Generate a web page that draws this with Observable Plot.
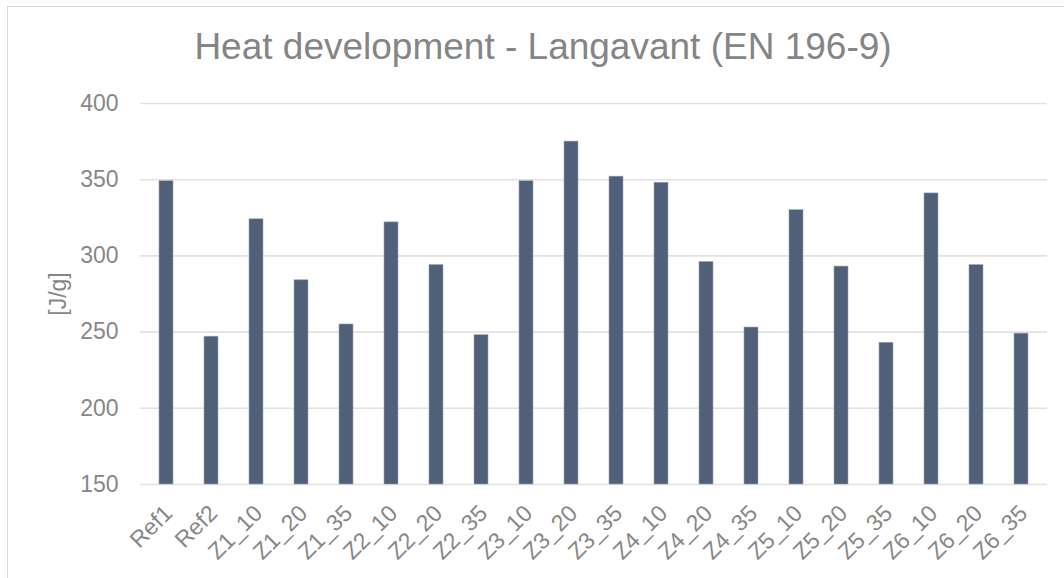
<!DOCTYPE html>
<html>
<head>
<meta charset="utf-8">
<script src="https://cdn.jsdelivr.net/npm/d3@7"></script>
<script src="https://cdn.jsdelivr.net/npm/@observablehq/plot@0.6"></script>
<style>
  html, body { margin: 0; padding: 0; background: #fff; }
  #wrap { position: relative; width: 1064px; height: 578px; overflow: hidden; font-family: "Liberation Sans", Arial, sans-serif; }
  #frame { position: absolute; left: 7px; top: 6px; width: 1080px; height: 600px; border: 1.5px solid #d9d9d9; box-sizing: border-box; }
  #title { position: absolute; left: 0; top: 26px; width: 1086px; text-align: center; font-size: 37px; line-height: normal; color: #858585; white-space: nowrap; }
  #chart { position: absolute; left: 0; top: 0; }
</style>
</head>
<body>
<div id="wrap">
  <div id="frame"></div>
  <div id="chart"></div>
  <div id="title">Heat development - Langavant (EN 196-9)</div>
</div>
<script>
const categories = ["Ref1","Ref2","Z1_10","Z1_20","Z1_35","Z2_10","Z2_20","Z2_35","Z3_10","Z3_20","Z3_35","Z4_10","Z4_20","Z4_35","Z5_10","Z5_20","Z5_35","Z6_10","Z6_20","Z6_35"];
const heatValues = [349,247,324,284,255,322,294,248,349,375,352,348,296,253,330,293,243,341,294,249];
const yTicks = [150,200,250,300,350,400];
const yLabel = "[J/g]";

const data = categories.map((c, i) => ({cat: c, value: heatValues[i]}));

const textColor = "#878787";

const chart = Plot.plot({
  width: 1064,
  height: 578,
  marginLeft: 140,
  marginRight: 17,
  marginTop: 103,
  marginBottom: 94,
  style: {fontFamily: "'Liberation Sans', Arial, sans-serif", fontSize: "23px", color: textColor, background: "transparent"},
  x: {domain: categories, paddingInner: 0.685, paddingOuter: 0.3425},
  y: {domain: [150, 400]},
  marks: [
    Plot.gridY(yTicks, {stroke: "#e2e2e2", strokeOpacity: 1, strokeWidth: 1.6}),
    Plot.barY(data, {x: "cat", y1: 150, y2: "value", fill: "#4f6078", stroke: "#9aa5b6", strokeWidth: 0.6}),
    Plot.axisY({ticks: yTicks, tickSize: 0, tickPadding: 22, label: yLabel, labelAnchor: "center", labelArrow: "none", labelOffset: 91, fill: textColor, fontSize: 23}),
    Plot.axisX({tickSize: 0, tickPadding: 25, dx: 2, tickRotate: -45, label: null, fill: textColor, fontSize: 23})
  ]
});
document.getElementById("chart").appendChild(chart);
</script>
</body>
</html>
